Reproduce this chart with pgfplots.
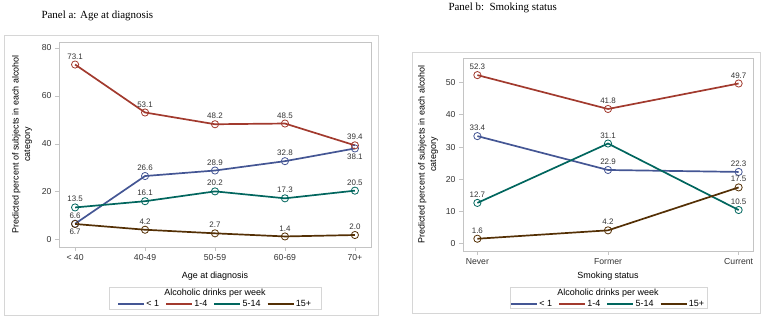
\documentclass[border=0pt]{standalone}
\usepackage{fontspec}
\setmainfont{Liberation Sans}
\newfontfamily\titlefont{Liberation Serif}
\usepackage{pgfplots}
\pgfplotsset{compat=1.18}
\usepackage{pgfplotstable}

\definecolor{sasblue}{HTML}{445694}
\definecolor{sasred}{HTML}{A23A2E}
\definecolor{sasgreen}{HTML}{01665E}
\definecolor{sasbrown}{HTML}{543005}
\definecolor{framegray}{HTML}{D6D6D6}
\definecolor{axisgray}{HTML}{C4C4C4}
\definecolor{textgray}{HTML}{333333}

% Panel a: predicted percent by age at diagnosis
\pgfplotstableread{
x lt1 a14 a514 a15
0 6.7 73.1 13.5 6.6
1 26.6 53.1 16.1 4.2
2 28.9 48.2 20.2 2.7
3 32.8 48.5 17.3 1.4
4 38.1 39.4 20.5 2.0
}\agetable

% Panel b: predicted percent by smoking status
\pgfplotstableread{
x lt1 a14 a514 a15
0 33.4 52.3 12.7 1.6
1 22.9 41.8 31.1 4.2
2 22.3 49.7 10.5 17.5
}\smoketable

\pgfplotsset{
  panel/.style={
    scale only axis,
    clip=false,
    axis line style={axisgray, line width=0.8bp},
    tick style={axisgray, line width=0.8bp},
    tick align=outside,
    major tick length=4bp,
    xtick pos=bottom, ytick pos=left,
    /pgf/number format/assume math mode=true,
    ticklabel style={font=\fontsize{8.7}{10}\selectfont, text=textgray},
    label style={font=\fontsize{9}{11.5}\selectfont, text=black},
    ylabel style={align=center, anchor=center},
    xlabel style={anchor=center},
    every axis plot/.append style={line width=1.7bp, mark=o, mark size=3.6bp,
      mark options={line width=0.8bp, solid}},
    point meta=explicit,
    every node near coord/.style={font=\fontsize{8}{9}\selectfont, text=textgray,
      inner xsep=0pt, inner ysep=5bp, anchor=south,
      /pgf/number format/.cd, fixed, fixed zerofill, precision=1, /tikz/.cd},
    legend columns=4,
    legend image code/.code={\draw[#1, mark=none, line width=1.3bp] (0bp,0bp) -- (26bp,0bp);},
    legend style={draw=none, fill=none, font=\fontsize{9}{11}\selectfont,
      anchor=center, inner sep=0pt,
      nodes={inner xsep=1.5bp, inner ysep=0.5bp},
      /tikz/every even column/.append style={column sep=5bp}},
  },
  % value labels only, no line and no marker
  labels only/.style={forget plot, draw=none, mark=none, nodes near coords},
}

\begin{document}
\begin{tikzpicture}
\path[use as bounding box] (0bp,0bp) rectangle (765bp,319bp);

% ---------------- Panel a ----------------
\node[anchor=base west, font=\titlefont\fontsize{11}{13}\selectfont] at (38bp,300bp)
  {Panel a: Age at diagnosis};
\draw[framegray, line width=0.8bp] (4bp,4bp) rectangle (378bp,284bp);

\begin{axis}[panel,
  at={(59bp,72bp)}, anchor=south west,
  width=312bp, height=205bp,
  xmin=-0.23, xmax=4.23, ymin=-3, ymax=82.5,
  xtick={0,1,2,3,4},
  xticklabels={< 40, 40-49, 50-59, 60-69, 70+},
  ytick={0,20,40,60,80},
  xlabel={Age at diagnosis},
  ylabel={Predicted percent of subjects in each alcohol\\category},
  xlabel style={at={(rel axis cs:0.5,-0.1415)}},
  ylabel style={at={(rel axis cs:-0.1186,0.5)}},
  legend style={at={(rel axis cs:0.5,-0.278)}},
]
\addplot[sasblue]  table[x=x, y=lt1,  meta=lt1]  {\agetable};
\addplot[sasred, nodes near coords]   table[x=x, y=a14,  meta=a14]  {\agetable};
\addplot[sasgreen, nodes near coords] table[x=x, y=a514, meta=a514] {\agetable};
\addplot[sasbrown, nodes near coords] table[x=x, y=a15,  meta=a15]  {\agetable};
% labels of the "< 1" series: above the middle points, below the end points
\addplot[labels only] coordinates {(1,26.6) [26.6] (2,28.9) [28.9] (3,32.8) [32.8]};
\addplot[labels only, every node near coord/.append style={anchor=north}]
  coordinates {(0,6.7) [6.7] (4,38.1) [38.1]};
\legend{< 1, 1-4, 5-14, 15+}
\end{axis}

\draw[framegray, line width=0.8bp] (109bp,10bp) rectangle (321bp,32bp);
\node[font=\fontsize{9}{11}\selectfont] at (215bp,26bp) {Alcoholic drinks per week};

% ---------------- Panel b ----------------
\node[anchor=base west, font=\titlefont\fontsize{11}{13}\selectfont] at (445bp,308.5bp)
  {Panel b:\ \ Smoking status};
\draw[framegray, line width=0.8bp] (412bp,6bp) rectangle (760bp,267bp);

\begin{axis}[panel,
  at={(463bp,68bp)}, anchor=south west,
  width=290bp, height=193bp,
  xmin=-0.11, xmax=2.11, ymin=-2.2, ymax=57.6,
  xtick={0,1,2},
  xticklabels={Never, Former, Current},
  ytick={0,10,20,30,40,50},
  xlabel={Smoking status},
  ylabel={Predicted percent of subjects in each alcohol\\category},
  xlabel style={at={(rel axis cs:0.5,-0.133)}},
  ylabel style={at={(rel axis cs:-0.1207,0.5)}},
  legend style={at={(rel axis cs:0.5,-0.2746)}},
  nodes near coords,
]
\addplot[sasblue]  table[x=x, y=lt1,  meta=lt1]  {\smoketable};
\addplot[sasred]   table[x=x, y=a14,  meta=a14]  {\smoketable};
\addplot[sasgreen] table[x=x, y=a514, meta=a514] {\smoketable};
\addplot[sasbrown] table[x=x, y=a15,  meta=a15]  {\smoketable};
\legend{< 1, 1-4, 5-14, 15+}
\end{axis}

\draw[framegray, line width=0.8bp] (510bp,11bp) rectangle (707bp,32bp);
\node[font=\fontsize{9}{11}\selectfont] at (608bp,26bp) {Alcoholic drinks per week};

\end{tikzpicture}
\end{document}
